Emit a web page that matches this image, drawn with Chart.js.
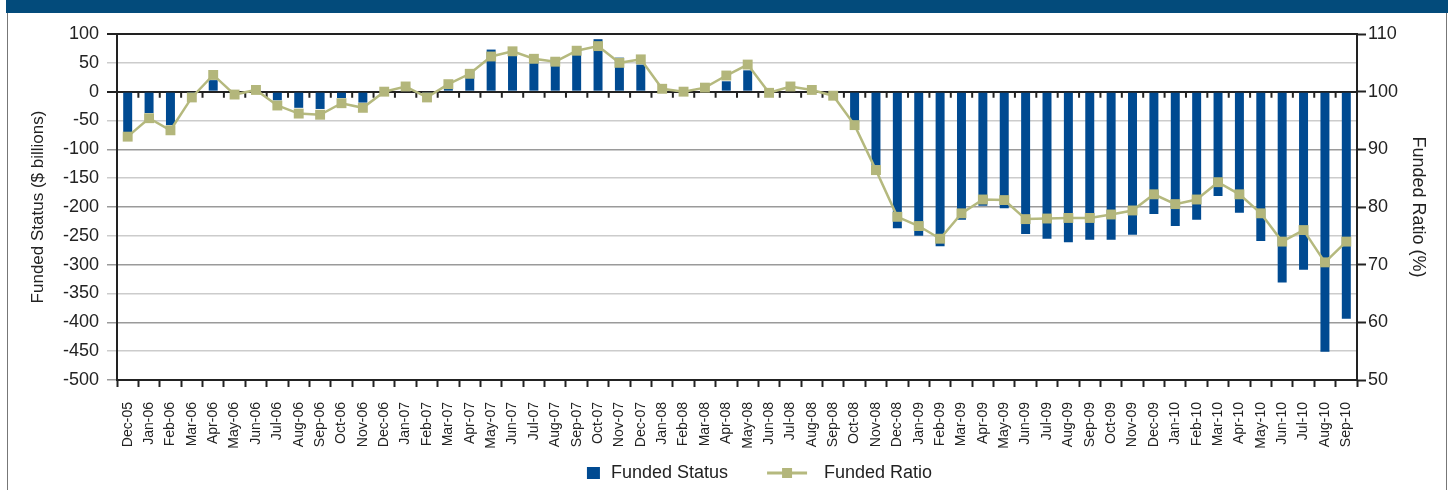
<!DOCTYPE html>
<html>
<head>
<meta charset="utf-8">
<script src="https://cdn.jsdelivr.net/npm/chart.js@4.4.0/dist/chart.umd.min.js"></script>
<style>
  html, body { margin: 0; padding: 0; background: #fff; }
  #wrap { position: relative; width: 1448px; height: 490px; overflow: hidden; }
  #band { position: absolute; left: 6px; top: 0; width: 1442px; height: 13px; background: #034b7b; }
  #edgeL { position: absolute; left: 7px; top: 13px; width: 1px; height: 477px; background: #777; }
  #edgeR { position: absolute; left: 1446px; top: 13px; width: 1px; height: 477px; background: #777; }
  canvas { position: absolute; left: 0; top: 0; }
</style>
</head>
<body>
<div id="wrap">
  <div id="band"></div><div id="edgeL"></div><div id="edgeR"></div>
  <canvas id="pension" width="1448" height="492"></canvas>
</div>
<script>
const months = [
  'Dec-05',
  'Jan-06', 'Feb-06', 'Mar-06', 'Apr-06', 'May-06', 'Jun-06', 'Jul-06', 'Aug-06', 'Sep-06', 'Oct-06', 'Nov-06', 'Dec-06',
  'Jan-07', 'Feb-07', 'Mar-07', 'Apr-07', 'May-07', 'Jun-07', 'Jul-07', 'Aug-07', 'Sep-07', 'Oct-07', 'Nov-07', 'Dec-07',
  'Jan-08', 'Feb-08', 'Mar-08', 'Apr-08', 'May-08', 'Jun-08', 'Jul-08', 'Aug-08', 'Sep-08', 'Oct-08', 'Nov-08', 'Dec-08',
  'Jan-09', 'Feb-09', 'Mar-09', 'Apr-09', 'May-09', 'Jun-09', 'Jul-09', 'Aug-09', 'Sep-09', 'Oct-09', 'Nov-09', 'Dec-09',
  'Jan-10', 'Feb-10', 'Mar-10', 'Apr-10', 'May-10', 'Jun-10', 'Jul-10', 'Aug-10', 'Sep-10'
];

// funded status, $ billions
const fundedStatus = [
  -72,
  -37, -58, -3, 20, -1, 1, -15, -28, -30, -11, -19, 0,
  3, -3, 5, 37, 73, 77, 56, 59, 79, 91, 59, 47,
  2, 0, 3, 18, 37, -1, 2, 1, -3, -55, -128, -237,
  -250, -268, -222, -198, -202, -247, -255, -261, -257, -257, -248, -212,
  -233, -222, -181, -210, -259, -331, -309, -451, -394
];

// funded ratio, %
const fundedRatio = [
  92.2,
  95.4, 93.3, 99.0, 102.9, 99.5, 100.3, 97.6, 96.2, 96.0, 98.0, 97.2, 100.0,
  100.9, 99.0, 101.3, 103.1, 106.1, 107.0, 105.7, 105.2, 107.1, 107.9, 105.0, 105.6,
  100.5, 100.0, 100.7, 102.8, 104.7, 99.8, 100.9, 100.3, 99.3, 94.2, 86.4, 78.3,
  76.7, 74.5, 78.9, 81.3, 81.2, 77.9, 78.0, 78.1, 78.1, 78.7, 79.4, 82.2,
  80.5, 81.3, 84.3, 82.2, 78.9, 74.0, 76.0, 70.4, 74.0
];

const statusTicks = { min: -500, max: 100, step: 50 };
const ratioTicks = { min: 50, max: 110, step: 10 };

const barBlue = '#004a91';
const ratioGreen = '#b5b97e';
const ink = '#222';
const font = 'Liberation Sans, Arial, Helvetica, sans-serif';

function legendIcon(draw) {
  const c = document.createElement('canvas');
  c.width = 86;
  c.height = 14;
  draw(c.getContext('2d'));
  return c;
}
const statusIcon = legendIcon(g => {
  g.fillStyle = barBlue;
  g.fillRect(71, 1, 13, 12);
});
const ratioIcon = legendIcon(g => {
  g.strokeStyle = ratioGreen;
  g.lineWidth = 3;
  g.beginPath();
  g.moveTo(38, 7);
  g.lineTo(78, 7);
  g.stroke();
  g.fillStyle = '#b3b67b';
  g.fillRect(53, 2, 10, 10);
});

// little tick marks hanging under the zero line between months
const zeroLineTicks = {
  id: 'zeroLineTicks',
  beforeDatasetsDraw(chart) {
    const { ctx, scales: { x, y } } = chart;
    const y0 = y.getPixelForValue(0);
    ctx.save();
    ctx.strokeStyle = ink;
    ctx.lineWidth = 2;
    ctx.beginPath();
    for (let i = 1; i < months.length; i++) {
      const px = (x.getPixelForValue(i - 1) + x.getPixelForValue(i)) / 2;
      ctx.moveTo(px, y0);
      ctx.lineTo(px, y0 + 6);
    }
    ctx.stroke();
    ctx.restore();
  }
};

new Chart(document.getElementById('pension'), {
  data: {
    labels: months,
    datasets: [{
      type: 'bar',
      label: 'Funded Status',
      data: fundedStatus,
      backgroundColor: barBlue,
      barPercentage: 0.42,
      categoryPercentage: 1,
      yAxisID: 'y',
      order: 1
    }, {
      type: 'line',
      label: 'Funded Ratio',
      data: fundedRatio,
      borderColor: ratioGreen,
      borderWidth: 2.5,
      tension: 0,
      pointStyle: 'rect',
      pointRadius: 7,
      pointBackgroundColor: '#b3b67b',
      pointBorderWidth: 0,
      yAxisID: 'y1',
      order: 0
    }]
  },
  options: {
    responsive: false,
    animation: false,
    layout: { padding: { top: 34, left: 0, right: 0, bottom: 0 } },
    plugins: {
      tooltip: { enabled: false },
      legend: {
        position: 'bottom',
        labels: {
          usePointStyle: true,
          pointStyleWidth: 86,
          padding: 1,
          color: ink,
          font: { family: font, size: 18 },
          generateLabels: () => [
            { text: 'Funded Status', pointStyle: statusIcon, fontColor: ink, lineWidth: 0, datasetIndex: 0, hidden: false },
            { text: 'Funded Ratio', pointStyle: ratioIcon, fontColor: ink, lineWidth: 0, datasetIndex: 1, hidden: false }
          ]
        }
      }
    },
    scales: {
      x: {
        grid: { offset: true, drawOnChartArea: false, tickLength: 7, tickWidth: 2, tickColor: ink },
        border: { color: ink, width: 2 },
        ticks: {
          autoSkip: false, minRotation: 90, maxRotation: 90, padding: 15,
          color: ink, font: { family: font, size: 14 }
        },
        afterFit: s => { s.height = 83; }
      },
      y: {
        position: 'left',
        min: statusTicks.min,
        max: statusTicks.max,
        ticks: { stepSize: statusTicks.step, padding: 8, color: ink, font: { family: font, size: 18 } },
        grid: {
          tickLength: 10,
          color: c => {
            const v = c.tick.value;
            if (v === 0 || v === statusTicks.max) return ink;
            return v % 100 === 0 ? '#9a9a9a' : '#cccccc';
          },
          lineWidth: c => (c.tick.value === 0 || c.tick.value === statusTicks.max) ? 2 : 1.5
        },
        border: { color: ink, width: 2 },
        title: {
          display: true,
          text: 'Funded Status ($ billions)',
          color: ink,
          font: { family: font, size: 17 },
          padding: { top: 28, bottom: 0 }
        },
        afterFit: s => { s.width = 117; }
      },
      y1: {
        position: 'right',
        min: ratioTicks.min,
        max: ratioTicks.max,
        ticks: { stepSize: ratioTicks.step, padding: 2, color: ink, font: { family: font, size: 18 } },
        grid: { drawOnChartArea: false, tickLength: 9, tickWidth: 2, tickColor: ink },
        border: { color: ink, width: 2 },
        title: {
          display: true,
          text: 'Funded Ratio (%)',
          color: ink,
          font: { family: font, size: 18 },
          padding: { top: 19, bottom: 0 }
        },
        afterFit: s => { s.width = 91; }
      }
    }
  },
  plugins: [zeroLineTicks]
});
</script>
</body>
</html>
